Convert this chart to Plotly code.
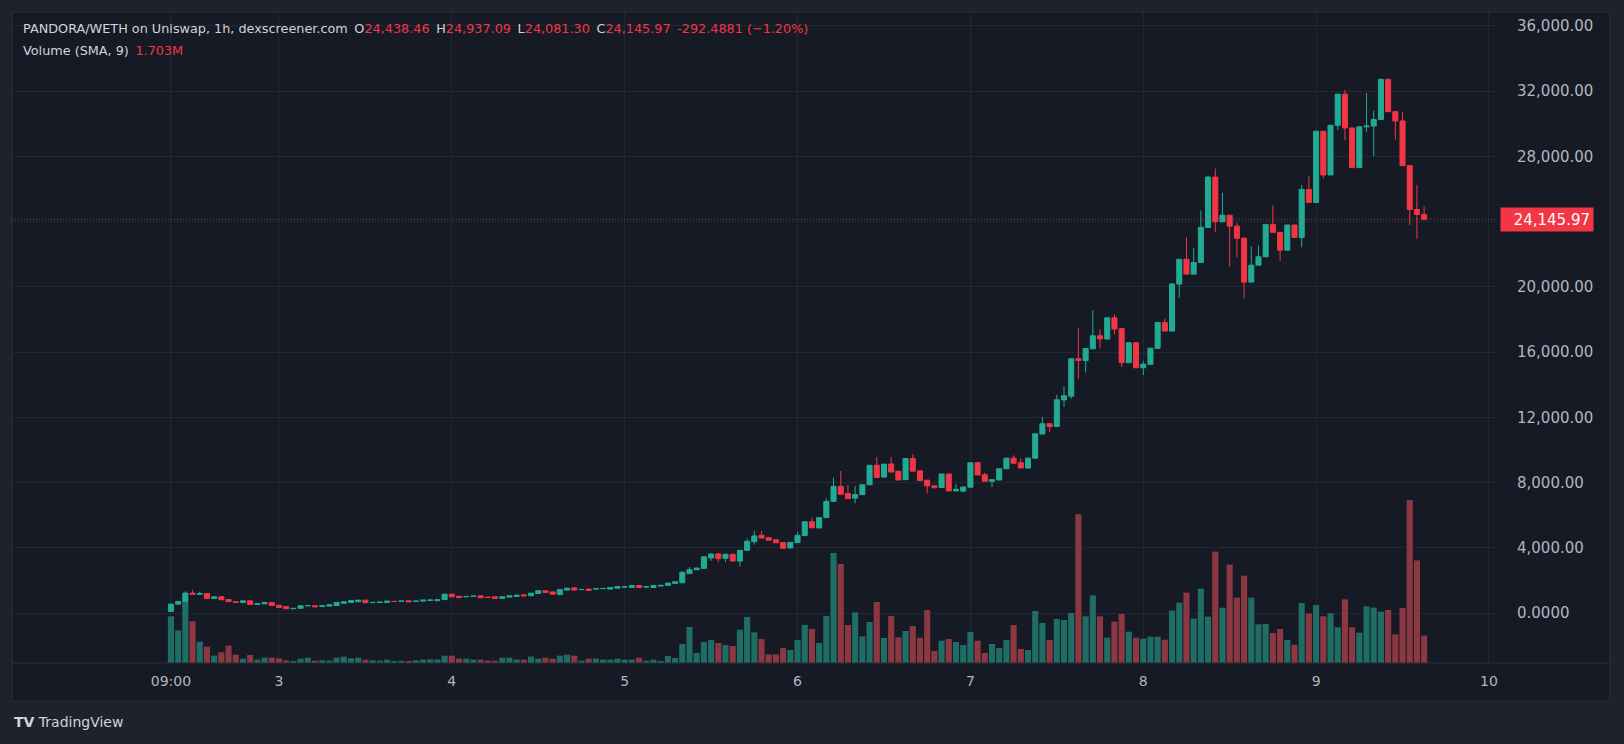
import pandas as pd
import plotly.graph_objects as go

# PANDORA/WETH on Uniswap, 1h candles: day 2 09:00 -> day 9 15:00 (175 bars)
open_ = [
    100, 550, 700, 1225, 1150, 1200, 900, 1000, 830, 700,
    650, 755, 530, 570, 655, 480, 400, 270, 290, 450,
    450, 400, 430, 470, 600, 655, 695, 795, 640, 655,
    655, 715, 725, 755, 720, 735, 780, 760, 830, 1160,
    1030, 1000, 1020, 1060, 980, 1000, 900, 980, 1020, 1120,
    1060, 1200, 1370, 1300, 1140, 1410, 1550, 1440, 1470, 1480,
    1500, 1470, 1530, 1600, 1570, 1690, 1600, 1570, 1660, 1700,
    1820, 1860, 2420, 2660, 2740, 3380, 3630, 3360, 3610, 3190,
    3850, 4380, 4770, 4630, 4500, 4320, 3990, 4320, 4750, 5600,
    5220, 5850, 6850, 7770, 7330, 7050, 7260, 7870, 9060, 8340,
    9140, 8700, 8180, 9470, 8720, 8150, 7800, 7700, 8530, 7490,
    7480, 7720, 9220, 8480, 8080, 8160, 8850, 9500, 9220, 8890,
    9500, 10980, 11610, 11440, 13070, 13300, 15590, 15480, 16200, 17000,
    16800, 18100, 17440, 15350, 16570, 15040, 15250, 16230, 17810, 17290,
    20170, 21690, 20780, 21490, 23640, 26730, 23990, 24390, 23720, 22980,
    20290, 21330, 21840, 23830, 23340, 22250, 23790, 23030, 25970, 25170,
    29540, 26860, 29900, 31810, 29740, 27310, 29810, 29860, 30260, 32710,
    30740, 30170, 27430, 24740, 24438.46,
]
high = [
    560, 730, 1330, 1430, 1310, 1215, 1010, 1010, 850, 720,
    770, 760, 580, 660, 660, 490, 410, 300, 460, 470,
    460, 460, 520, 660, 700, 785, 805, 800, 665, 680,
    745, 725, 745, 765, 745, 805, 810, 825, 1170, 1190,
    1065, 1030, 1050, 1070, 990, 1010, 1010, 1070, 1110, 1130,
    1230, 1380, 1380, 1310, 1460, 1540, 1560, 1460, 1480, 1500,
    1520, 1580, 1640, 1620, 1700, 1700, 1620, 1700, 1720, 1850,
    1930, 2580, 2830, 2780, 3460, 3640, 3650, 3630, 3620, 3870,
    4570, 5040, 5040, 4650, 4520, 4330, 4350, 4980, 5620, 5860,
    5860, 7020, 8300, 8710, 7860, 7780, 7880, 9070, 9570, 9140,
    9570, 8720, 9480, 9730, 8730, 8160, 7810, 8540, 8540, 7920,
    7740, 9230, 9230, 8600, 8190, 8860, 9510, 9670, 9480, 9510,
    11000, 12020, 11620, 13390, 13900, 15600, 17470, 16230, 18550, 17390,
    18110, 18310, 17450, 16580, 16580, 15470, 16250, 17820, 18060, 20190,
    21700, 23020, 22370, 24670, 26800, 27250, 25760, 24400, 23900, 23030,
    22490, 22530, 23840, 24980, 23350, 23800, 23800, 26240, 26810, 29550,
    29550, 29910, 31820, 32070, 29750, 29820, 31880, 30810, 32790, 32790,
    30750, 30690, 27440, 26240, 24937.09,
]
low = [
    95, 540, 690, 1130, 1140, 890, 880, 810, 680, 640,
    640, 525, 520, 560, 465, 340, 260, 260, 280, 440,
    380, 390, 420, 460, 590, 645, 685, 625, 630, 645,
    645, 705, 715, 685, 710, 725, 770, 750, 820, 990,
    940, 990, 1010, 930, 950, 890, 890, 970, 1010, 1050,
    1050, 1190, 1255, 1150, 1130, 1400, 1400, 1430, 1380, 1470,
    1490, 1460, 1520, 1590, 1560, 1560, 1590, 1560, 1650, 1690,
    1810, 1850, 2400, 2640, 2720, 3200, 3130, 3140, 3180, 2840,
    3830, 4200, 4580, 4460, 4300, 3970, 3980, 4300, 4740, 5220,
    5200, 5830, 6810, 7280, 7010, 6740, 7250, 7860, 8300, 8330,
    8640, 8150, 8170, 8690, 8110, 7330, 7670, 7690, 7480, 7480,
    7400, 7710, 8460, 8070, 7735, 8150, 8840, 9180, 8890, 8880,
    9490, 10960, 11100, 11430, 12650, 13140, 14370, 14750, 16190, 16220,
    16790, 17080, 15100, 15340, 15030, 14590, 15240, 16220, 17280, 17280,
    19330, 20770, 20770, 21480, 23630, 23370, 23980, 21240, 21820, 19290,
    20280, 21320, 21830, 23330, 21580, 22240, 23020, 22430, 25160, 25160,
    26650, 26850, 29620, 28980, 27300, 27300, 29500, 28000, 30250, 30730,
    29030, 27420, 23790, 22960, 24081.30,
]
close = [
    550, 715, 1225, 1150, 1200, 900, 1000, 820, 700, 650,
    755, 530, 570, 655, 470, 350, 270, 290, 450, 460,
    390, 450, 510, 655, 695, 775, 795, 635, 655, 675,
    735, 715, 735, 695, 735, 795, 800, 815, 1160, 1000,
    950, 1020, 1040, 940, 960, 900, 1000, 1060, 1100, 1060,
    1220, 1370, 1265, 1160, 1450, 1530, 1410, 1450, 1390, 1490,
    1510, 1570, 1630, 1610, 1690, 1570, 1610, 1690, 1700, 1840,
    1920, 2500, 2660, 2760, 3450, 3620, 3340, 3610, 3190, 3850,
    4400, 4730, 4600, 4470, 4310, 3980, 4340, 4770, 5600, 5230,
    5850, 6850, 7770, 7290, 7020, 7260, 7870, 9060, 8310, 9130,
    8650, 8160, 9470, 8700, 8120, 7800, 7680, 8530, 7490, 7590,
    7730, 9220, 8470, 8080, 8180, 8850, 9500, 9190, 8900, 9500,
    10990, 11610, 11430, 13080, 13320, 15590, 15490, 16220, 17000, 16810,
    18100, 17420, 15350, 16570, 15040, 15260, 16240, 17810, 17290, 20180,
    21690, 20780, 21490, 23650, 26730, 23990, 24390, 23720, 22980, 20290,
    21330, 21840, 23830, 23340, 22250, 23790, 23030, 25970, 25170, 29540,
    26860, 29900, 31810, 29740, 27310, 29810, 29860, 30260, 32710, 30740,
    30170, 27430, 24740, 24438.46, 24145.97,
]
# hourly volume, thousand USD
volume_k = [
    1206, 844, 1576, 1077, 551, 422, 190, 276, 448, 215,
    112, 207, 86, 138, 138, 121, 69, 34, 112, 138,
    60, 69, 60, 138, 164, 121, 138, 86, 69, 60,
    86, 43, 60, 52, 69, 86, 95, 95, 190, 190,
    112, 112, 86, 86, 60, 60, 138, 138, 86, 86,
    164, 112, 138, 112, 190, 215, 190, 60, 112, 112,
    86, 86, 112, 86, 86, 138, 60, 86, 52, 181,
    129, 491, 930, 258, 543, 594, 517, 465, 439, 861,
    1189, 792, 620, 224, 224, 388, 336, 594, 982, 879,
    517, 1215, 2843, 2558, 982, 1309, 689, 1060, 1576, 646,
    1215, 663, 827, 956, 655, 1370, 310, 577, 620, 543,
    465, 801, 577, 258, 491, 388, 594, 982, 362, 336,
    1344, 1034, 594, 1137, 1111, 1292, 3842, 1206, 1749, 1206,
    655, 1068, 1266, 810, 655, 629, 681, 681, 603, 1352,
    1559, 1818, 1146, 1921, 1197, 2877, 1430, 2541, 1688, 2257,
    1688, 999, 1008, 775, 879, 594, 474, 1551, 1283, 1499,
    1206, 1283, 922, 1645, 922, 784, 1464, 1430, 1327, 1370,
    741, 1421, 4212, 2653, 706,
]

day_ticks = ["2025-01-02 09:00", "2025-01-03", "2025-01-04", "2025-01-05", "2025-01-06",
             "2025-01-07", "2025-01-08", "2025-01-09", "2025-01-10"]
day_labels = ["09:00", "3", "4", "5", "6", "7", "8", "9", "10"]
price_ticks = [0, 4000, 8000, 12000, 16000, 20000, 24000, 28000, 32000, 36000]
# 24,000 label is hidden behind the last-price tag
price_labels = ["0.0000", "4,000.00", "8,000.00", "12,000.00", "16,000.00", "20,000.00",
                "", "28,000.00", "32,000.00", "36,000.00"]
last_price = 24145.97

UP, DOWN = "#22ab94", "#f23645"
VOL_UP, VOL_DOWN = "#1f6d65", "#8b3843"
PANE, OUTER = "#161a25", "#1e222d"
GRID, BORDER = "#232734", "#2a2e39"
AXIS_TXT, HEAD_TXT = "#b2b5be", "#d1d4dc"
FONT = "DejaVu Sans"

times = pd.date_range("2025-01-02 09:00", periods=len(close), freq="h")
vol_colors = [VOL_UP if c >= o else VOL_DOWN for o, c in zip(open_, close)]

fig = go.Figure()
fig.add_trace(go.Bar(x=times, y=volume_k, yaxis="y2", marker=dict(color=vol_colors, line_width=0),
                     showlegend=False, hoverinfo="skip"))
fig.add_trace(go.Candlestick(
    x=times, open=open_, high=high, low=low, close=close, showlegend=False,
    increasing=dict(line=dict(color=UP, width=1), fillcolor=UP),
    decreasing=dict(line=dict(color=DOWN, width=1), fillcolor=DOWN),
    whiskerwidth=0,
))

# plot area in px: x 12..1497, y 13..663
L, R, T, B = 12, 1497, 13, 663
W, H = R - L, B - T


def px_x(p):
    return (p - L) / W


def px_y(p):
    return (B - p) / H


red = lambda s: f"<span style='color:{DOWN}'>{s}</span>"
sp = "\u00a0\u2009"
line1 = ("PANDORA/WETH on Uniswap, 1h, dexscreener.com" + sp + "O" + red("24,438.46") + sp + "H"
         + red("24,937.09") + sp + "L" + red("24,081.30") + sp + "C" + red("24,145.97") + sp
         + red("-292.4881 (\u22121.20%)"))
line2 = "Volume (SMA, 9)" + sp + red("1.703M")

fig.update_layout(
    width=1624, height=744,
    margin=dict(l=L, r=1624 - R, t=T, b=744 - B),
    paper_bgcolor=OUTER, plot_bgcolor=PANE,
    font=dict(family=FONT, color=AXIS_TXT),
    boxgap=0.3, boxgroupgap=0, bargap=0.15,
    xaxis=dict(
        type="date", range=["2025-01-01 10:56", "2025-01-10 01:07"],
        rangeslider_visible=False, tickmode="array", tickvals=day_ticks, ticktext=day_labels,
        showgrid=True, gridcolor=GRID, gridwidth=1, zeroline=False, showline=False,
        tickfont=dict(size=14, color=AXIS_TXT), ticklabelstandoff=8,
    ),
    yaxis=dict(
        side="right", range=[-3059, 36788], tickmode="array", tickvals=price_ticks,
        ticktext=price_labels,
        showgrid=True, gridcolor=GRID, zeroline=False, showline=False,
        tickfont=dict(size=15, color=AXIS_TXT), ticklabelstandoff=19,
    ),
    yaxis2=dict(overlaying="y", range=[0, 16797], visible=False),
    showlegend=False,
    shapes=[
        dict(type="rect", xref="paper", yref="paper", x0=0, x1=px_x(1610), y0=px_y(701), y1=px_y(12),
             fillcolor=PANE, line=dict(color=BORDER, width=1), layer="below"),
        dict(type="line", xref="paper", yref="paper", x0=0, x1=px_x(1610), y0=0, y1=0,
             line=dict(color=BORDER, width=1)),
        dict(type="line", xref="paper", yref="y", x0=0, x1=1, y0=last_price, y1=last_price,
             line=dict(color="rgba(242,54,69,0.75)", width=1, dash="1px,2px")),
    ],
    annotations=[
        dict(xref="paper", yref="paper", x=px_x(21), y=px_y(29), xanchor="left", yanchor="middle",
             text=line1, showarrow=False, font=dict(size=12.8, color=HEAD_TXT, family=FONT)),
        dict(xref="paper", yref="paper", x=px_x(21), y=px_y(50), xanchor="left", yanchor="middle",
             text=line2, showarrow=False, font=dict(size=12.8, color=HEAD_TXT, family=FONT)),
        dict(xref="paper", yref="y", x=px_x(1500), y=last_price, xanchor="left", yanchor="middle",
             text="24,145.97", showarrow=False, bgcolor=DOWN, borderpad=3, width=86, height=17,
             align="right", font=dict(size=15, color="#ffffff", family=FONT)),
        dict(xref="paper", yref="paper", x=px_x(12), y=px_y(722), xanchor="left", yanchor="middle",
             text="<b>TV</b> TradingView", showarrow=False,
             font=dict(size=14, color=HEAD_TXT, family=FONT)),
    ],
)

fig.write_html("out.html", config=dict(displayModeBar=False),
               post_script="document.body.style.margin='0';")
